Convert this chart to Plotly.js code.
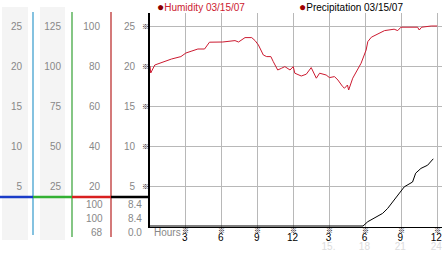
<!DOCTYPE html>
<html><head><meta charset="utf-8">
<script src="https://cdn.plot.ly/plotly-3.0.1.min.js"></script>
<style>html,body{margin:0;padding:0;background:#fff}#chart{width:442px;height:253px}</style>
</head><body><div id="chart"></div>
<script>
// ---- data ----
const seriesNames = ['Humidity 03/15/07', 'Precipitation 03/15/07'];
const humHours = [0,0.06,0.4,1.22,1.8,2.58,3.0,3.5,4.0,4.56,4.97,6.08,7.1,7.4,7.94,8.5,8.78,9.06,9.47,9.75,10.1,10.3,10.67,11.0,11.27,11.7,11.97,12.1,12.64,13.06,13.47,13.9,14.17,14.72,15.0,15.42,15.7,16.1,16.25,16.5,16.6,16.94,17.36,17.64,18.06,18.2,18.5,19.0,19.6,20.4,20.7,20.97,22.36,22.5,22.7,23.5,24.0];
const humidity = [80,76.5,80.5,82.2,83.5,84.7,86.5,87.5,88.5,88.5,91.9,92,92.7,92,94.2,94.2,92.7,90.5,85.5,84.7,84.7,82.2,78,78.9,79.7,78,79.7,76.4,75,75.9,79.2,73.9,76.4,75.5,74.2,74.7,73,69.7,68.9,70.5,68,73.9,78.9,81.4,88,92.2,94.4,96,97.7,98.4,97.7,99.4,99.4,98,99.4,100,100];
const precipHours = [0,17.8,18.2,18.75,19.44,19.86,20.4,20.97,21.25,21.94,22.2,22.64,23.2,23.67];
const precip = [0,0,0.54,0.96,1.58,2.2,3.25,4.3,4.9,5.5,6.6,7.2,7.6,8.4];
const xTickVals = [3,6,9,12,15,18,21,24];
const xTickText = ['3','6','9','12','3','6','9','12'];
const xDayTickVals = [15,18,21,24];
const xDayTickText = ['15.','18','21','24'];
const col1Ticks = [5,10,15,20,25];
const col2Ticks = [25,50,75,100,125];
const col3Ticks = [20,40,60,80,100];
const col4Ticks = [5,10,15,20,25];
const humidityStats = ['100','100','68'];
const precipStats = ['8.4','8.4','0.0'];
const xLabel = 'Hours';

// ---- geometry helpers (pixels -> paper) ----
const W = 442, H = 253, T = 13, B = 26, PLOT_L = 150;
const PH = H - T - B, PW = W - PLOT_L;
const px = x => x / W;
const py = y => (H - B - y) / PH;
const gray = '#888888';
const FONT = 'Liberation Sans, Arial, sans-serif';
const MARKFONT = 'Noto Sans CJK JP, DejaVu Sans, sans-serif';
const FS = 10;
const yr = [-0.125, 26.625];
const xr = [0, 24.4];
// axis value -> paper fraction (same linear mapping as the axes use)
const xPaper = v => px(PLOT_L + (v - xr[0]) / (xr[1] - xr[0]) * PW);
const yPaper = v => (v - yr[0]) / (yr[1] - yr[0]);

function freeAxis(pos, range, vals) {
  return {overlaying: 'y', anchor: 'free', position: pos, side: 'left', range: range,
    tickvals: vals, ticktext: vals.map(String), ticks: '', showgrid: false, showline: false,
    zeroline: false, tickfont: {family: FONT, size: FS, color: gray}, ticklabelstandoff: 11, fixedrange: true};
}
// empty carrier traces so that the label-only axes are laid out
function carrier(xa, ya) {
  return {x: [], y: [], type: 'scatter', mode: 'lines', xaxis: xa, yaxis: ya, showlegend: false, hoverinfo: 'skip'};
}

const traces = [
  {x: humHours, y: humidity, type: 'scatter', mode: 'lines', name: seriesNames[0],
   xaxis: 'x', yaxis: 'y2', line: {color: '#cc1a30', width: 1}, showlegend: false, hoverinfo: 'skip'},
  {x: precipHours, y: precip, type: 'scatter', mode: 'lines', name: seriesNames[1],
   xaxis: 'x', yaxis: 'y', line: {color: '#000000', width: 1}, showlegend: false, hoverinfo: 'skip'},
  carrier('x', 'y3'), carrier('x', 'y4'), carrier('x2', 'y')
];

const shapes = [
  {type:'rect', xref:'paper', yref:'paper', x0:px(2), x1:px(28), y0:py(240), y1:py(7), fillcolor:'#f4f4f4', line:{width:0}, layer:'below'},
  {type:'rect', xref:'paper', yref:'paper', x0:px(40), x1:px(65), y0:py(240), y1:py(7), fillcolor:'#f4f4f4', line:{width:0}, layer:'below'},
  {type:'line', xref:'paper', yref:'paper', x0:px(33), x1:px(33), y0:py(235), y1:py(12), line:{color:'#3399cc', width:1.2}},
  {type:'line', xref:'paper', yref:'paper', x0:px(72), x1:px(72), y0:py(237), y1:py(12), line:{color:'#33a033', width:1.2}},
  {type:'line', xref:'paper', yref:'paper', x0:px(111), x1:px(111), y0:py(237), y1:py(12), line:{color:'#b82020', width:1.2}},
  {type:'line', xref:'paper', yref:'paper', x0:px(0), x1:px(33), y0:py(197), y1:py(197), line:{color:'#1a3cc8', width:2.5}},
  {type:'line', xref:'paper', yref:'paper', x0:px(33), x1:px(72), y0:py(197), y1:py(197), line:{color:'#33b033', width:2.5}},
  {type:'line', xref:'paper', yref:'paper', x0:px(72), x1:px(111), y0:py(197), y1:py(197), line:{color:'#d82020', width:2.5}},
  {type:'line', xref:'paper', yref:'paper', x0:px(111), x1:px(149), y0:py(197), y1:py(197), line:{color:'#000000', width:2.5}}
];

const annotations = [];
// small ※ check marks at each tick
xTickVals.forEach(v => annotations.push({xref:'paper', yref:'paper', x:xPaper(v), y:py(230), text:'※',
  xanchor:'center', yanchor:'middle', showarrow:false, font:{family:MARKFONT, size:7, color:'#000'}}));
col4Ticks.forEach(v => annotations.push({xref:'paper', yref:'paper', x:px(145.5), y:yPaper(v), text:'※',
  xanchor:'center', yanchor:'middle', showarrow:false, font:{family:MARKFONT, size:7, color:'#000'}}));
const statY = [204, 218, 232];
humidityStats.forEach((t, i) => annotations.push({xref:'paper', yref:'paper', x:px(105), y:py(statY[i]), text:t,
  xanchor:'right', yanchor:'middle', showarrow:false, font:{family:FONT, size:FS, color:gray}}));
precipStats.forEach((t, i) => annotations.push({xref:'paper', yref:'paper', x:px(144), y:py(statY[i]), text:t,
  xanchor:'right', yanchor:'middle', showarrow:false, font:{family:FONT, size:FS, color:gray}}));
annotations.push({xref:'paper', yref:'paper', x:px(155), y:py(7), xanchor:'left', yanchor:'middle', showarrow:false,
  text:"<span style='color:#8b0000;font-size:12px'>●</span>" + seriesNames[0], font:{family:FONT, size:FS, color:'#cc2030'}});
annotations.push({xref:'paper', yref:'paper', x:px(297), y:py(7), xanchor:'left', yanchor:'middle', showarrow:false,
  text:"<span style='color:#a00000;font-size:12px'>●</span>" + seriesNames[1], font:{family:FONT, size:FS, color:'#000000'}});
annotations.push({xref:'paper', yref:'paper', x:px(152), y:py(232), xanchor:'left', yanchor:'middle', showarrow:false,
  text:xLabel, font:{family:FONT, size:FS, color:gray}});

const layout = {
  width: W, height: H, margin: {l: 0, r: 0, t: T, b: B, pad: 0},
  paper_bgcolor: '#ffffff', plot_bgcolor: '#ffffff', showlegend: false,
  xaxis: {domain: [PLOT_L / W, 1], range: xr, anchor: 'y', tickvals: xTickVals, ticktext: xTickText, ticks: '',
    showgrid: true, gridcolor: '#b8b8b8', gridwidth: 1, showline: true, linecolor: '#000', linewidth: 1, zeroline: false,
    tickfont: {family: FONT, size: FS, color: '#000'}, ticklabelstandoff: 1, ticklabelshift: -1,
    ticklabeloverflow: 'allow', fixedrange: true},
  xaxis2: {overlaying: 'x', anchor: 'y', side: 'bottom', range: xr, tickvals: xDayTickVals, ticktext: xDayTickText,
    ticks: '', showgrid: false, showline: false, zeroline: false, tickfont: {family: FONT, size: FS, color: '#dcdcdc'},
    ticklabelstandoff: 12, ticklabelshift: -1, ticklabeloverflow: 'allow', fixedrange: true},
  yaxis: {domain: [0, 1], range: yr, anchor: 'x', side: 'left', tickvals: col4Ticks, ticktext: col4Ticks.map(String), ticks: '',
    showgrid: true, gridcolor: '#b8b8b8', gridwidth: 1, showline: true, linecolor: '#000', linewidth: 2, zeroline: false,
    tickfont: {family: FONT, size: FS, color: gray}, ticklabelstandoff: 11, fixedrange: true},
  yaxis2: freeAxis(111 / W, [-0.5, 106.5], col3Ticks),
  yaxis3: freeAxis(72 / W, [-0.625, 133.125], col2Ticks),
  yaxis4: freeAxis(33 / W, yr, col1Ticks),
  shapes: shapes, annotations: annotations
};

Plotly.newPlot('chart', traces, layout, {staticPlot: true, displayModeBar: false});
</script></body></html>
